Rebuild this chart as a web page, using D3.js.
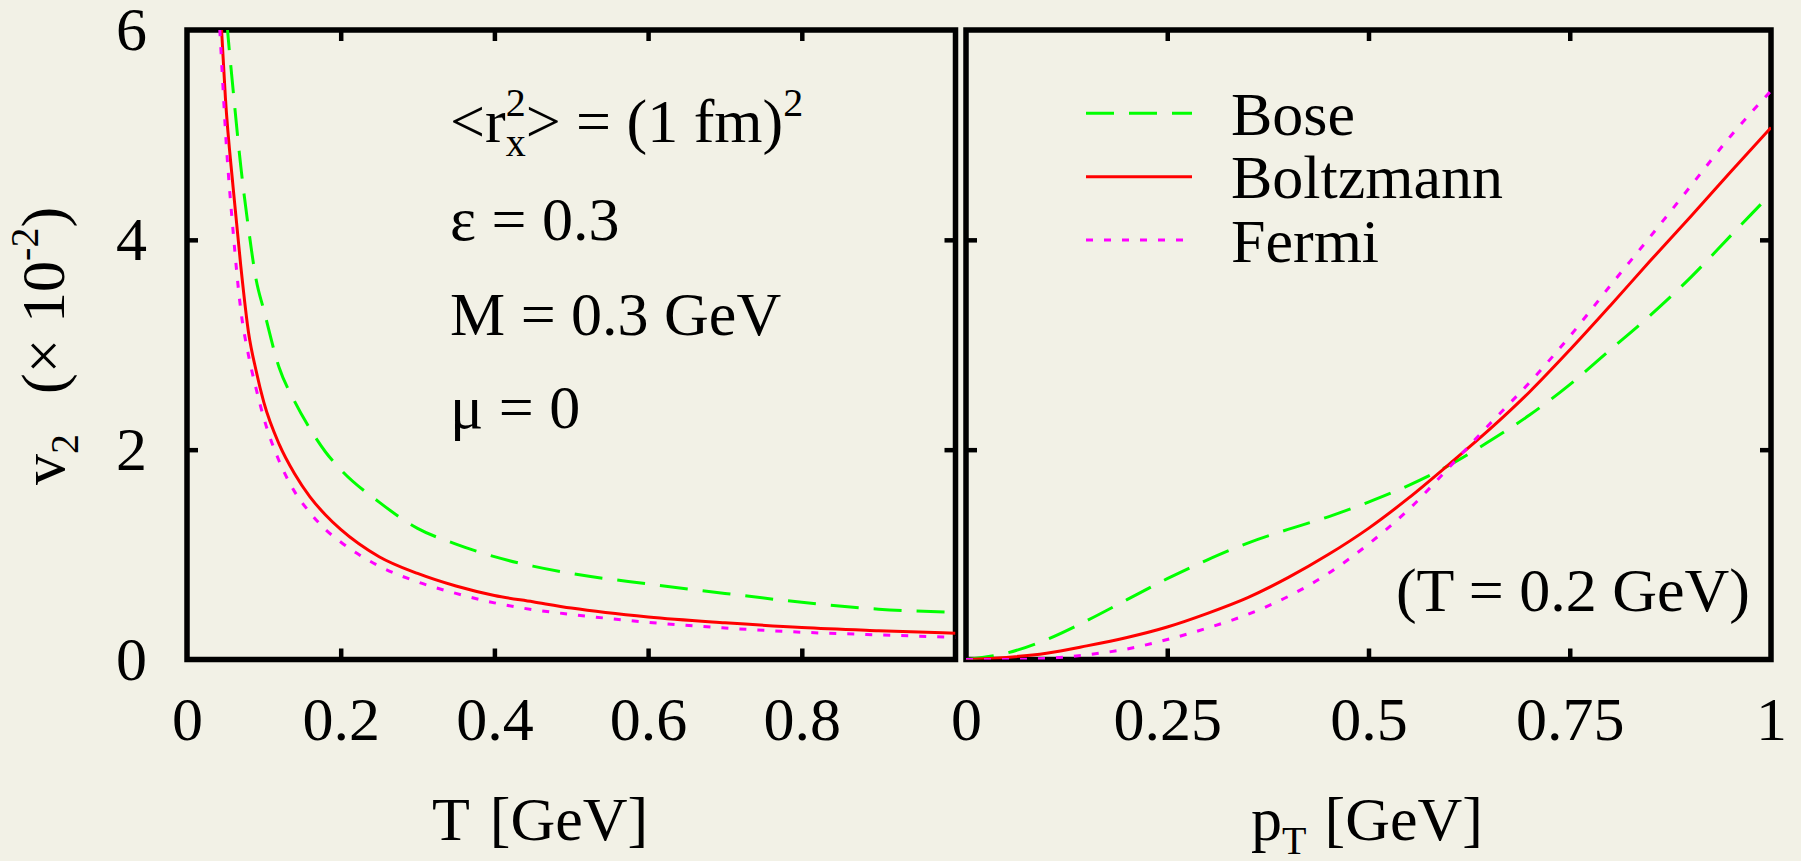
<!DOCTYPE html>
<html>
<head>
<meta charset="utf-8">
<script src="https://cdn.jsdelivr.net/npm/d3@7/dist/d3.min.js"></script>
<style>
  html, body { margin: 0; padding: 0; background: #f2f1e6; }
  svg { display: block; }
  text { font-family: "Liberation Serif", "Times New Roman", Times, serif; fill: #000; }
</style>
</head>
<body>
<svg id="chart" width="1801" height="861"></svg>
<script>
// ---- data: elliptic flow v2 (in units of 1e-2) ----
// left panel: v2 versus temperature T [GeV]
const tempGrid = [0.040, 0.045, 0.05, 0.06, 0.07, 0.08, 0.09, 0.10, 0.12, 0.14, 0.16, 0.18,
                  0.20, 0.25, 0.30, 0.35, 0.40, 0.45, 0.50, 0.60, 0.70, 0.80, 0.90, 1.00];
const boseVsT      = [7.3, 6.8, 6.25, 5.43, 4.70, 4.11, 3.62, 3.33, 2.78, 2.46, 2.20, 1.98,
                      1.81, 1.50, 1.25, 1.10, 0.98, 0.89, 0.82, 0.72, 0.63, 0.545, 0.48, 0.45];
const boltzmannVsT = [6.6, 6.0, 5.35, 4.50, 3.75, 3.12, 2.75, 2.45, 2.05, 1.77, 1.55, 1.38,
                      1.24, 0.98, 0.82, 0.70, 0.61, 0.55, 0.49, 0.405, 0.35, 0.305, 0.275, 0.25];
const fermiVsT     = [6.35, 5.7, 5.04, 4.08, 3.33, 2.90, 2.58, 2.30, 1.89, 1.60, 1.40, 1.24,
                      1.12, 0.89, 0.74, 0.63, 0.54, 0.475, 0.43, 0.355, 0.30, 0.26, 0.235, 0.21];

// right panel: v2 versus transverse momentum pT [GeV] at T = 0.2 GeV
const ptGrid = [0, 0.05, 0.10, 0.15, 0.20, 0.25, 0.30, 0.35, 0.40, 0.45, 0.50,
                0.55, 0.60, 0.65, 0.70, 0.75, 0.80, 0.85, 0.90, 0.95, 1.00];
const boseVsPt      = [0, 0.06, 0.19, 0.37, 0.57, 0.77, 0.95, 1.11, 1.24, 1.36, 1.50,
                       1.66, 1.85, 2.08, 2.33, 2.62, 2.95, 3.28, 3.64, 4.04, 4.44];
const boltzmannVsPt = [0, 0.02, 0.06, 0.13, 0.21, 0.31, 0.44, 0.59, 0.78, 1.00, 1.25,
                       1.54, 1.86, 2.19, 2.55, 2.95, 3.37, 3.80, 4.22, 4.65, 5.07];
const fermiVsPt     = [0, 0.0, 0.01, 0.045, 0.10, 0.19, 0.30, 0.43, 0.60, 0.82, 1.10,
                       1.43, 1.83, 2.24, 2.64, 3.08, 3.56, 4.03, 4.51, 4.99, 5.42];

const seriesNames = ["Bose", "Boltzmann", "Fermi"];
const yTicks = [0, 2, 4, 6];
const tTicks = [0, 0.2, 0.4, 0.6, 0.8];
const tTicksAll = [0.2, 0.4, 0.6, 0.8];
const ptTicks = [0, 0.25, 0.5, 0.75, 1];
const ptTicksInner = [0.25, 0.5, 0.75];

// ---- styles ----
const styles = {
  Bose:      { color: "#00ff00", dash: "28,15" },
  Boltzmann: { color: "#ff0000", dash: null },
  Fermi:     { color: "#ff00ff", dash: "7,11" }
};
const FONT = 62, SUB = 40;
const TICK = 11, TICK_W = 4.5, FRAME_W = 5.5;

const svg = d3.select("#chart");
svg.append("rect").attr("width", 1801).attr("height", 861).attr("fill", "#f2f1e6");

const plotTop = 30, plotBottom = 659.5;
const y = d3.scaleLinear().domain([0, 6]).range([plotBottom, plotTop]);
const xT = d3.scaleLinear().domain([0, 1]).range([187, 955.5]);
const xP = d3.scaleLinear().domain([0, 1]).range([966, 1771]);

const fmt = d => d3.format("~g")(d);

function styleAxis(g) {
  g.select(".domain").remove();
  g.selectAll(".tick line").attr("stroke", "#000").attr("stroke-width", TICK_W);
  g.selectAll(".tick text").attr("font-size", FONT).attr("font-family", null).attr("fill", "#000");
}

function panel(id, x, xLabelTicks, xInnerTicks, withYLabels) {
  const [x0, x1] = x.range();
  const g = svg.append("g").attr("id", id);

  // clip region for curves
  svg.append("clipPath").attr("id", id + "-clip")
    .append("rect").attr("x", x0).attr("y", plotTop).attr("width", x1 - x0).attr("height", plotBottom - plotTop);

  // bottom ticks (inward) + labels
  const gb = g.append("g").attr("transform", `translate(0,${plotBottom})`)
    .call(d3.axisBottom(x).tickValues(xLabelTicks).tickFormat(fmt)
      .tickSizeInner(-TICK).tickSizeOuter(0).tickPadding(36));
  styleAxis(gb);
  gb.selectAll(".tick line").filter(d => !xInnerTicks.includes(d)).remove();

  // top ticks
  const gt = g.append("g").attr("transform", `translate(0,${plotTop})`)
    .call(d3.axisTop(x).tickValues(xInnerTicks).tickFormat("")
      .tickSizeInner(-TICK).tickSizeOuter(0));
  styleAxis(gt);

  // left ticks
  const gl = g.append("g").attr("transform", `translate(${x0},0)`)
    .call(d3.axisLeft(y).tickValues(withYLabels ? yTicks : [2, 4])
      .tickFormat(withYLabels ? fmt : "")
      .tickSizeInner(-TICK).tickSizeOuter(0).tickPadding(40));
  styleAxis(gl);
  gl.selectAll(".tick line").filter(d => d === 0 || d === 6).remove();

  // right ticks
  const gr = g.append("g").attr("transform", `translate(${x1},0)`)
    .call(d3.axisRight(y).tickValues([2, 4]).tickFormat("")
      .tickSizeInner(-TICK).tickSizeOuter(0));
  styleAxis(gr);

  // frame
  g.append("rect").attr("x", x0).attr("y", plotTop).attr("width", x1 - x0).attr("height", plotBottom - plotTop)
    .attr("fill", "none").attr("stroke", "#000").attr("stroke-width", FRAME_W);

  return g;
}

function drawCurves(id, x, xs, seriesValues) {
  const line = d3.line().x(d => x(d[0])).y(d => y(d[1])).curve(d3.curveMonotoneX);
  const g = svg.append("g").attr("clip-path", `url(#${id}-clip)`);
  seriesNames.forEach((name, i) => {
    const pts = xs.map((v, k) => [v, seriesValues[i][k]]);
    g.append("path").datum(pts).attr("d", line)
      .attr("fill", "none")
      .attr("stroke", styles[name].color)
      .attr("stroke-width", 3)
      .attr("stroke-dasharray", styles[name].dash);
  });
}

panel("left", xT, tTicks, tTicksAll, true);
panel("right", xP, ptTicks, ptTicksInner, false);
drawCurves("left", xT, tempGrid, [boseVsT, boltzmannVsT, fermiVsT]);
drawCurves("right", xP, ptGrid, [boseVsPt, boltzmannVsPt, fermiVsPt]);

// ---- axis titles ----
const tt = svg.append("text").attr("x", 540).attr("y", 840).attr("text-anchor", "middle")
  .attr("font-size", FONT);
tt.append("tspan").text("T");
tt.append("tspan").attr("dx", 20).text("[GeV]");

const pt = svg.append("text").attr("x", 1367).attr("y", 840).attr("text-anchor", "middle")
  .attr("font-size", FONT);
pt.append("tspan").text("p");
pt.append("tspan").attr("font-size", SUB).attr("dy", 14).text("T");
pt.append("tspan").attr("dy", -14).attr("dx", 18).text("[GeV]");

const yt = svg.append("text").attr("transform", "translate(64,346) rotate(-90)")
  .attr("text-anchor", "middle").attr("font-size", FONT);
yt.append("tspan").text("v");
yt.append("tspan").attr("font-size", SUB).attr("dy", 14).text("2");
yt.append("tspan").attr("dy", -14).attr("dx", 40).text("(\u00d7 10");
yt.append("tspan").attr("font-size", SUB).attr("dy", -26).text("-2");
yt.append("tspan").attr("dy", 26).text(")");

// ---- parameter annotations (left panel) ----
const ax = 450;
const r = svg.append("text").attr("x", ax).attr("y", 141.7).attr("font-size", FONT);
r.append("tspan").text("<r");
r.append("tspan").attr("font-size", SUB).attr("dy", -26).text("2");
r.append("tspan").attr("font-size", SUB).attr("dx", -20).attr("dy", 40).text("x");
r.append("tspan").attr("dy", -14).text("> = (1 fm)");
r.append("tspan").attr("font-size", SUB).attr("dy", -26).text("2");

const params = [["\u03b5 = 0.3", 240], ["M = 0.3 GeV", 335], ["\u03bc = 0", 428]];
params.forEach(([s, by]) => {
  svg.append("text").attr("x", ax).attr("y", by).attr("font-size", FONT).text(s);
});

// ---- legend (right panel) ----
const legendLineY = [113.3, 176.7, 240];
const legendTextY = [135, 197.7, 261.7];
seriesNames.forEach((name, i) => {
  svg.append("line").attr("x1", 1086).attr("x2", 1192)
    .attr("y1", legendLineY[i]).attr("y2", legendLineY[i])
    .attr("stroke", styles[name].color).attr("stroke-width", 3)
    .attr("stroke-dasharray", styles[name].dash);
  svg.append("text").attr("x", 1231).attr("y", legendTextY[i]).attr("font-size", FONT).text(name);
});

svg.append("text").attr("x", 1750).attr("y", 611).attr("text-anchor", "end")
  .attr("font-size", FONT).text("(T = 0.2 GeV)");
</script>
</body>
</html>
